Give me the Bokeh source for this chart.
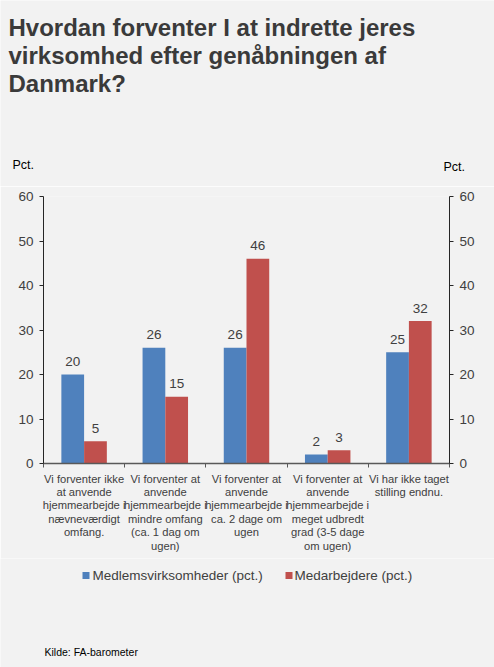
from bokeh.plotting import figure
from bokeh.layouts import column
from bokeh.models import Range1d, FixedTicker, LinearAxis, ColumnDataSource
from bokeh.embed import file_html
from bokeh.resources import INLINE
from bokeh.core.properties import value

# Survey answers (category axis) and the two series, in percent
categories = [
    "Vi forventer ikke\nat anvende\nhjemmearbejde i\nnævneværdigt\nomfang.",
    "Vi forventer at\nanvende\nhjemmearbejde i\nmindre omfang\n(ca. 1 dag om\nugen)",
    "Vi forventer at\nanvende\nhjemmearbejde i\nca. 2 dage om\nugen",
    "Vi forventer at\nanvende\nhjemmearbejde i\nmeget udbredt\ngrad (3-5 dage\nom ugen)",
    "Vi har ikke taget\nstilling endnu.",
]
members = [20, 26, 26, 2, 25]
employees = [5, 15, 46, 3, 32]
series_names = ["Medlemsvirksomheder (pct.)", "Medarbejdere (pct.)"]
y_ticks = [0, 10, 20, 30, 40, 50, 60]
title_lines = [
    "Hvordan forventer I at indrette jeres",
    "virksomhed efter genåbningen af",
    "Danmark?",
]
unit_label = "Pct."
source_note = "Kilde: FA-barometer"

BG = "#f2f2f2"
BLUE = "#4f81bd"
RED = "#c0504d"
FONT = "Liberation Sans"
TXT = "#404040"

W = 494
TOP_H, MAIN_H, BOT_H = 186, 372, 109
Y_MAX = 60
n = len(categories)


def text_panel(height):
    """A plain canvas in pixel coordinates (origin top-left) for free text."""
    f = figure(width=W, height=height, output_backend="svg", toolbar_location=None,
               x_range=Range1d(0, W), y_range=Range1d(height, 0),
               x_axis_type=None, y_axis_type=None, frame_align=False,
               min_border=0, background_fill_color=BG, border_fill_color=BG,
               outline_line_color=None)
    f.grid.visible = False
    return f


# ---- heading: title and unit notes above each value axis
top = text_panel(TOP_H)
top.text(x=[8] * len(title_lines), y=[26.5 + 28.4 * k for k in range(len(title_lines))],
         text=title_lines, text_font=value(FONT), text_font_size="24px",
         text_font_style="bold", text_color="#3a3a3a", text_baseline="middle")
top.text(x=[12, 443], y=[164.5, 166], text=[unit_label, unit_label],
         text_font=value(FONT), text_font_size="12.5px", text_color="#000000",
         text_baseline="middle")

# ---- main bar chart
p = figure(width=W, height=MAIN_H, output_backend="svg", toolbar_location=None,
           x_range=Range1d(0, n), y_range=Range1d(0, Y_MAX), frame_align=False,
           min_border_left=43, min_border_right=45,
           min_border_top=10, min_border_bottom=95,
           background_fill_color=BG, border_fill_color=BG,
           outline_line_color=None)
p.grid.visible = False

idx = list(range(n))
bar_w = 0.28
src = ColumnDataSource(dict(
    xb=[i + 0.5 - bar_w / 2 for i in idx],
    xr=[i + 0.5 + bar_w / 2 for i in idx],
    members=members, employees=employees,
    tm=[str(v) for v in members], te=[str(v) for v in employees],
))

p.vbar(x="xb", top="members", width=bar_w, source=src, fill_color=BLUE, line_color=None)
p.vbar(x="xr", top="employees", width=bar_w, source=src, fill_color=RED, line_color=None)

for xcol, ycol, tcol in (("xb", "members", "tm"), ("xr", "employees", "te")):
    p.text(x=xcol, y=ycol, text=tcol, source=src, text_align="center",
           text_baseline="middle", y_offset=-13,
           text_font=value(FONT), text_font_size="13.5px", text_color=TXT)

# category axis: labels at centres, tick marks at category boundaries
xa = p.xaxis[0]
xa.ticker = FixedTicker(ticks=[i + 0.5 for i in idx], minor_ticks=list(range(n + 1)))
xa.major_label_overrides = {i + 0.5: c for i, c in zip(idx, categories)}
xa.major_tick_out = 0
xa.major_tick_in = 0
xa.minor_tick_out = 4
xa.minor_tick_in = 0
xa.minor_tick_line_color = "#595959"
xa.axis_line_color = "#595959"
xa.axis_line_width = 1.5
xa.major_label_standoff = 5
xa.major_label_text_font = FONT
xa.major_label_text_font_size = "11.2px"
xa.major_label_text_color = TXT
xa.major_label_text_line_height = 1.12


def style_y(ax):
    ax.ticker = FixedTicker(ticks=y_ticks)
    ax.major_tick_out = 4
    ax.major_tick_in = 0
    ax.minor_tick_line_color = None
    ax.axis_line_color = "#262626"
    ax.major_tick_line_color = "#262626"
    ax.major_label_standoff = 6
    ax.major_label_text_font = FONT
    ax.major_label_text_font_size = "13.5px"
    ax.major_label_text_color = TXT


style_y(p.yaxis[0])
ra = LinearAxis()
style_y(ra)
p.add_layout(ra, "right")

# ---- footer: series key and source
bot = text_panel(BOT_H)
key_x = [85.5, 288.5]
key_y = 17
bot.scatter(x=key_x, y=[key_y, key_y], marker="square", size=7,
            fill_color=[BLUE, RED], line_color=None)
bot.text(x=[92, 294], y=[key_y, key_y], text=series_names, text_font=value(FONT),
         text_font_size="13.5px", text_color=TXT, text_baseline="middle")
bot.text(x=[44], y=[93], text=[source_note], text_font=value(FONT),
         text_font_size="10.5px", text_color="#000000", text_baseline="middle")

layout = column(top, p, bot, spacing=0)
open("out.html", "w").write(file_html(layout, INLINE))
